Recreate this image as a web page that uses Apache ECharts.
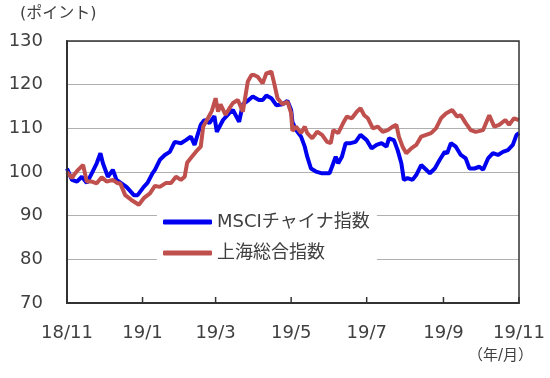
<!DOCTYPE html>
<html><head><meta charset="utf-8">
<script src="https://cdn.jsdelivr.net/npm/echarts@6/dist/echarts.min.js"></script>
<style>html,body{margin:0;padding:0;background:#fff}#c{width:550px;height:378px}</style>
</head><body><div id="c"></div>
<script>
const seriesNames = ['MSCIチャイナ指数', '上海総合指数'];

const msciDates = ['2018-11-01','2018-11-05','2018-11-09','2018-11-13','2018-11-17','2018-11-21','2018-11-25','2018-11-28','2018-11-30','2018-12-04','2018-12-08','2018-12-11','2018-12-19','2018-12-25','2018-12-28','2019-01-02','2019-01-05','2019-01-09','2019-01-11','2019-01-15','2019-01-19','2019-01-23','2019-01-27','2019-02-01','2019-02-05','2019-02-09','2019-02-12','2019-02-14','2019-02-17','2019-02-20','2019-02-24','2019-02-28','2019-03-02','2019-03-07','2019-03-12','2019-03-15','2019-03-20','2019-03-23','2019-03-26','2019-03-31','2019-04-05','2019-04-08','2019-04-11','2019-04-15','2019-04-19','2019-04-24','2019-04-28','2019-05-01','2019-05-02','2019-05-05','2019-05-09','2019-05-12','2019-05-14','2019-05-17','2019-05-21','2019-05-26','2019-06-01','2019-06-03','2019-06-06','2019-06-08','2019-06-11','2019-06-14','2019-06-18','2019-06-22','2019-06-26','2019-07-01','2019-07-05','2019-07-09','2019-07-13','2019-07-17','2019-07-19','2019-07-23','2019-07-26','2019-07-29','2019-07-31','2019-08-03','2019-08-07','2019-08-10','2019-08-14','2019-08-17','2019-08-21','2019-08-25','2019-08-29','2019-09-02','2019-09-04','2019-09-07','2019-09-11','2019-09-15','2019-09-19','2019-09-22','2019-09-26','2019-09-30','2019-10-03','2019-10-07','2019-10-11','2019-10-15','2019-10-19','2019-10-23','2019-10-27','2019-10-30','2019-11-01'];
const msciValues = [100.8,98.2,97.8,98.9,97.5,99.7,102,104.3,102,98.9,100.5,98.2,96.6,94.7,94.7,96.6,97.5,99.7,100.5,102.8,103.9,104.6,106.9,106.6,107.3,108.1,106.2,108.1,110.8,111.9,111.2,112.8,109.2,111.9,113.5,114.2,111.5,115.5,116.1,117.3,116.5,116.5,117.5,116.9,115.3,115.5,116.3,114.2,111.5,109.6,108.1,105.8,103.5,100.8,100.1,99.7,99.7,101.2,103.5,102,103.5,106.6,106.6,106.9,108.5,107.3,105.4,106.2,106.6,105.8,107.7,107.3,105,102,98.2,98.6,98.2,99.3,101.6,100.8,99.7,100.8,102.8,104.6,104.3,106.6,105.8,103.9,103.1,100.8,100.8,101.2,100.5,103.1,104.3,103.9,104.6,105,106.2,108.5,108.9];

const shDates = ['2018-11-01','2018-11-05','2018-11-07','2018-11-10','2018-11-14','2018-11-17','2018-11-21','2018-11-25','2018-11-29','2018-12-03','2018-12-08','2018-12-12','2018-12-14','2018-12-18','2018-12-23','2018-12-29','2019-01-02','2019-01-07','2019-01-11','2019-01-15','2019-01-20','2019-01-24','2019-01-28','2019-02-01','2019-02-04','2019-02-06','2019-02-09','2019-02-13','2019-02-17','2019-02-19','2019-02-22','2019-02-26','2019-03-01','2019-03-03','2019-03-05','2019-03-09','2019-03-12','2019-03-15','2019-03-19','2019-03-23','2019-03-27','2019-03-30','2019-04-01','2019-04-04','2019-04-08','2019-04-11','2019-04-15','2019-04-17','2019-04-20','2019-04-24','2019-04-28','2019-05-01','2019-05-02','2019-05-05','2019-05-09','2019-05-12','2019-05-14','2019-05-18','2019-05-22','2019-05-26','2019-05-30','2019-06-02','2019-06-04','2019-06-08','2019-06-12','2019-06-15','2019-06-19','2019-06-23','2019-06-26','2019-06-29','2019-07-02','2019-07-06','2019-07-10','2019-07-14','2019-07-18','2019-07-22','2019-07-25','2019-07-27','2019-07-30','2019-08-02','2019-08-06','2019-08-10','2019-08-14','2019-08-18','2019-08-22','2019-08-26','2019-08-30','2019-09-03','2019-09-08','2019-09-12','2019-09-15','2019-09-19','2019-09-23','2019-09-27','2019-10-03','2019-10-08','2019-10-12','2019-10-16','2019-10-21','2019-10-24','2019-10-28','2019-11-01'];
const shValues = [100,98.6,99.5,100.5,101.6,97.8,97.8,97.4,98.8,97.8,98.2,97.4,97.4,94.7,93.6,92.5,94,95.1,96.8,96.6,97.5,97.5,98.9,98.2,98.9,102.1,103.2,104.6,105.8,110.4,111.9,114,116.9,113.8,115.5,113.1,114.5,115.8,116.5,113.8,120.7,122.2,122.2,121.8,120.3,122.6,123,120.7,116.9,115.5,116.1,113.5,109.4,110.4,108.9,110.4,108.9,107.7,109.2,108.5,106.9,106.6,109.6,108.9,111.2,112.7,112.3,113.8,114.6,113,112.3,110,110.4,109.2,109.6,110.4,110.8,108.1,105.8,104.3,105.4,106.2,108.1,108.5,108.9,110,112.3,113.4,114.2,112.7,113,111.2,109.6,109.2,109.6,113,110.4,110.8,111.9,110.8,112.3,111.9];

const xTickDates = ['2018-11-01','2019-01-01','2019-03-01','2019-05-01','2019-07-01','2019-09-01','2019-11-01'];
const xTickLabels = ['18/11','19/1','19/3','19/5','19/7','19/9','19/11'];
const yMin = 70, yMax = 130, yStep = 10;
const yUnit = '(ポイント)';
const xUnit = '（年/月）';

const DAY = 86400000;
function ts(s) { const p = s.split('-').map(Number); return Date.UTC(p[0], p[1] - 1, p[2]); }
const origin = ts(xTickDates[0]);
function dayOf(s) { return Math.round((ts(s) - origin) / DAY); }
function zip(d, v) { return d.map((x, i) => [dayOf(x), v[i]]); }
const xTicks = xTickDates.map(dayOf);
const xMin = xTicks[0], xMax = xTicks[xTicks.length - 1];

const FONT = '"DejaVu Sans", "Noto Sans CJK JP", sans-serif';
const TXT = '#404040';
const AX = '#333333';
const chart = echarts.init(document.getElementById('c'));

chart.setOption({
  animation: false,
  grid: { left: 67, right: 31, top: 41, bottom: 75 },
  xAxis: {
    type: 'value', min: xMin, max: xMax,
    axisLine: { show: true, lineStyle: { color: AX, width: 2 } },
    axisTick: { show: false }, axisLabel: { show: false }, splitLine: { show: false }
  },
  yAxis: {
    type: 'value', min: yMin, max: yMax, interval: yStep,
    axisLine: { show: true, lineStyle: { color: AX, width: 2 } },
    axisTick: { show: false },
    splitLine: { show: true, lineStyle: { color: '#b0b0b0', width: 1 } },
    axisLabel: { margin: 24, fontSize: 18, color: TXT, fontFamily: FONT }
  },
  legend: {
    orient: 'vertical', left: 157, top: 207,
    padding: [6, 7, 6, 6], backgroundColor: '#ffffff',
    itemWidth: 49, itemHeight: 5, itemGap: 13, icon: 'roundRect',
    textStyle: { fontSize: 18, color: TXT, fontFamily: FONT },
    data: seriesNames
  },
  series: [
    {
      name: 'xTicks', type: 'custom', silent: true, clip: false, z: 1,
      data: xTicks.map((d, i) => [d, yMin, i]),
      renderItem: function (params, api) {
        const p = api.coord([api.value(0), api.value(1)]);
        const i = api.value(2);
        return {
          type: 'group',
          children: [
            { type: 'rect', shape: { x: p[0] - 0.75, y: p[1] - 6, width: 1.5, height: 6 }, style: { fill: AX } },
            { type: 'text', x: p[0], y: p[1] + 21, style: { text: xTickLabels[i], fontSize: 18, fontFamily: FONT, fill: TXT, align: 'center', verticalAlign: 'top' } }
          ]
        };
      }
    },
    { name: seriesNames[0], type: 'line', showSymbol: false, data: zip(msciDates, msciValues), lineStyle: { width: 4, color: '#0000f0' }, itemStyle: { color: '#0000f0' }, z: 2 },
    { name: seriesNames[1], type: 'line', showSymbol: false, data: zip(shDates, shValues), lineStyle: { width: 4, color: '#c0504d' }, itemStyle: { color: '#c0504d' }, z: 3 }
  ]
});

// plot frame from the grid's own scale, plus unit captions
const tl = chart.convertToPixel({ gridIndex: 0 }, [xMin, yMax]);
const br = chart.convertToPixel({ gridIndex: 0 }, [xMax, yMin]);
chart.setOption({
  graphic: [
    { type: 'rect', z: 10, silent: true, shape: { x: tl[0], y: tl[1], width: br[0] - tl[0], height: br[1] - tl[1] }, style: { stroke: AX, lineWidth: 1.5, fill: null } },
    { type: 'text', left: 20, top: 6, style: { text: yUnit, fontSize: 16, fill: TXT, fontFamily: FONT } },
    { type: 'text', left: 468, top: 349, style: { text: xUnit, fontSize: 15, fill: TXT, fontFamily: FONT } }
  ]
});
</script></body></html>
